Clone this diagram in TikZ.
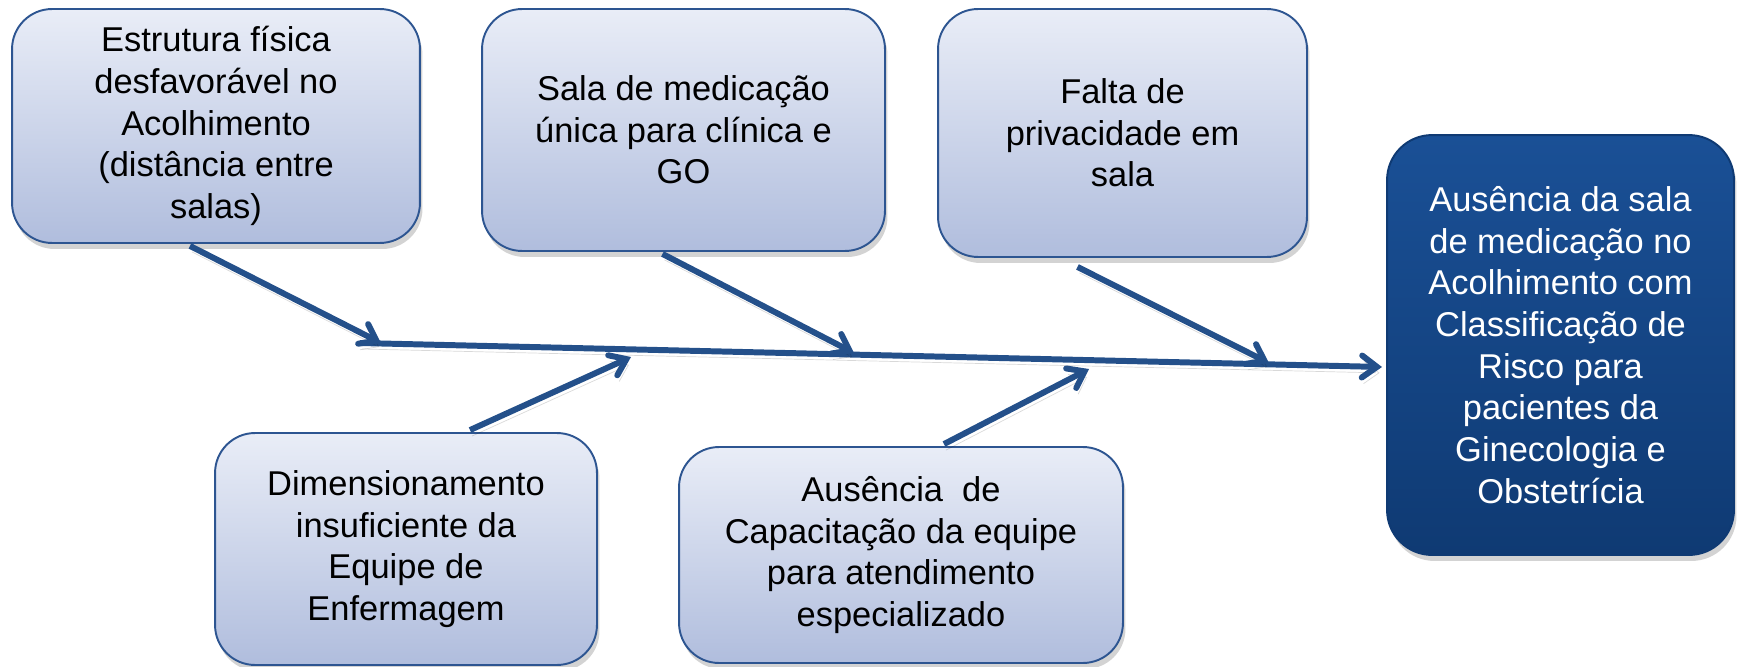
\documentclass[tikz,border=0pt]{standalone}
\usepackage{fontspec}
\setmainfont{Liberation Sans}
\usetikzlibrary{arrows.meta,calc,shadows}

\definecolor{boxtop}{RGB}{233,237,247}
\definecolor{boxbot}{RGB}{176,189,221}
\definecolor{boxline}{RGB}{45,85,145}
\definecolor{darktop}{RGB}{26,80,150}
\definecolor{darkbot}{RGB}{15,58,115}
\definecolor{bone}{RGB}{36,80,138}

\tikzset{
  cause/.style={draw=boxline, line width=1.1pt, rounded corners=0.8cm,
    top color=boxtop, bottom color=boxbot, align=center, inner sep=0pt,
    drop shadow={shadow xshift=0.5mm, shadow yshift=-1.2mm, opacity=0.35},
    font=\fontsize{19.6}{23.7}\selectfont},
  effect/.style={cause, draw=darkbot, rounded corners=0.9cm,
    top color=darktop, bottom color=darkbot, text=white},
  bonearrow/.style={draw=bone, line width=3.4pt,
    -{Straight Barb[length=3mm,width=4.4mm,line cap=round]},
    preaction={draw=black, opacity=0.15, transform canvas={shift={(0.4mm,-1.2mm)}}}}
}

\begin{document}
\begin{tikzpicture}[x=0.02cm, y=-0.02cm]
\useasboundingbox (0,0) rectangle (1741,666);

% causes above the spine
\node[cause, minimum width=8.16cm, minimum height=4.68cm] (fisica) at (216,126)
  {Estrutura física\\desfavorável no\\Acolhimento\\(distância entre\\salas)};
\node[cause, minimum width=8.06cm, minimum height=4.84cm] (salaunica) at (683.5,130)
  {Sala de medicação\\única para clínica e\\GO};
\node[cause, minimum width=7.38cm, minimum height=4.96cm] (privacidade) at (1122.5,133)
  {Falta de\\privacidade em\\sala};

% causes below the spine
\node[cause, minimum width=7.64cm, minimum height=4.64cm] (equipe) at (406,549)
  {Dimensionamento\\insuficiente da\\Equipe de\\Enfermagem};
\node[cause, minimum width=8.88cm, minimum height=4.32cm] (capacitacao) at (901,555)
  {Ausência\ \ de\\Capacitação da equipe\\para atendimento\\especializado};

% effect
\node[effect, minimum width=6.94cm, minimum height=8.4cm] (problema) at (1560.5,345)
  {Ausência da sala\\de medicação no\\Acolhimento com\\Classificação de\\Risco para\\pacientes da\\Ginecologia e\\Obstetrícia};

% spine
\coordinate (spinestart) at (360,343);
\coordinate (spineend) at (1382,367);
\draw[bonearrow] (spinestart) -- (spineend);

% tips of the bones
\coordinate (tipfisica) at (381,343);
\coordinate (tipsala) at (854,353);
\coordinate (tipprivacidade) at (1269,363);
\coordinate (tipequipe) at (631,357);
\coordinate (tipcapacitacao) at (1089,369);

\draw[bonearrow] ($(fisica.south)+(-26,2)$) -- (tipfisica);
\draw[bonearrow] ($(salaunica.south)+(-21,2)$) -- (tipsala);
\draw[bonearrow] ($(privacidade.south)+(-45,9)$) -- (tipprivacidade);
\draw[bonearrow] ($(equipe.north)+(64,-2)$) -- (tipequipe);
\draw[bonearrow] ($(capacitacao.north)+(43,-2)$) -- (tipcapacitacao);
\end{tikzpicture}
\end{document}
